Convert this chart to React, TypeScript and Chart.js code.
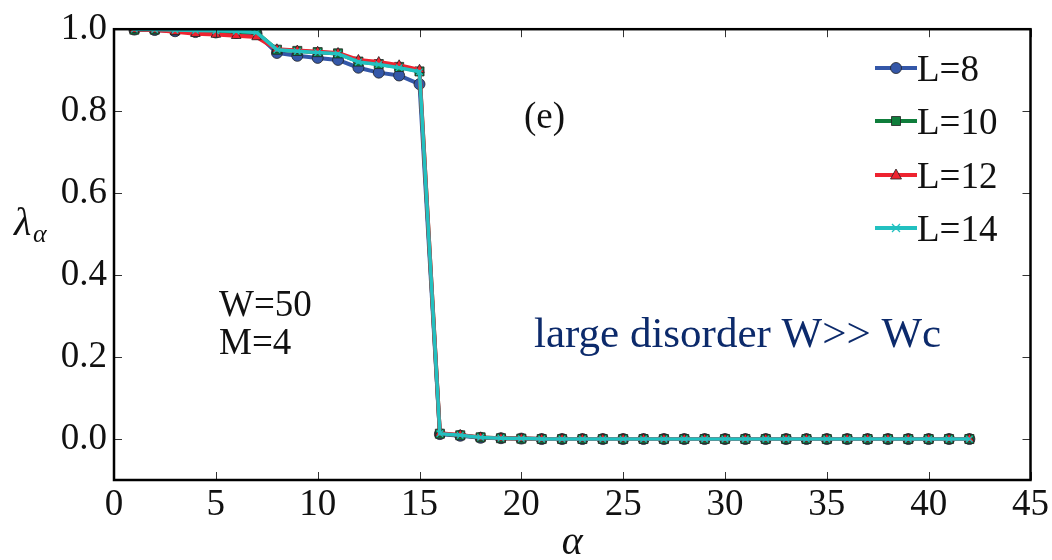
import { useEffect, useRef } from 'react';
import { Chart, registerables } from 'chart.js';

Chart.register(...registerables);

// Eigenvalue index α
const alpha = [
  1, 2, 3, 4, 5, 6, 7, 8, 9, 10, 11, 12, 13, 14, 15, 16, 17, 18, 19, 20, 21,
  22, 23, 24, 25, 26, 27, 28, 29, 30, 31, 32, 33, 34, 35, 36, 37, 38, 39, 40, 41, 42,
];

// λ_α for each system size
const lambdaL8 = [
  0.999, 0.998, 0.995, 0.993, 0.992, 0.991, 0.989, 0.942, 0.935, 0.930, 0.925, 0.906, 0.894, 0.887, 0.866,
  0.012, 0.008, 0.003, 0.002, 0.001, 0, 0, 0, 0, 0, 0, 0, 0, 0, 0, 0, 0, 0, 0, 0, 0, 0, 0, 0, 0, 0, 0,
];
const lambdaL10 = [
  0.999, 0.999, 0.997, 0.995, 0.994, 0.993, 0.992, 0.950, 0.947, 0.944, 0.941, 0.921, 0.915, 0.908, 0.897,
  0.013, 0.009, 0.004, 0.002, 0.001, 0, 0, 0, 0, 0, 0, 0, 0, 0, 0, 0, 0, 0, 0, 0, 0, 0, 0, 0, 0, 0, 0,
];
const lambdaL12 = [
  0.999, 0.998, 0.994, 0.989, 0.987, 0.984, 0.981, 0.951, 0.948, 0.945, 0.942, 0.925, 0.920, 0.912, 0.901,
  0.014, 0.010, 0.004, 0.002, 0.001, 0, 0, 0, 0, 0, 0, 0, 0, 0, 0, 0, 0, 0, 0, 0, 0, 0, 0, 0, 0, 0, 0,
];
const lambdaL14 = [
  1.0, 0.999, 0.998, 0.997, 0.996, 0.995, 0.992, 0.950, 0.946, 0.943, 0.940, 0.920, 0.914, 0.906, 0.896,
  0.013, 0.009, 0.004, 0.002, 0.001, 0, 0, 0, 0, 0, 0, 0, 0, 0, 0, 0, 0, 0, 0, 0, 0, 0, 0, 0, 0, 0, 0,
];

const seriesLabels = ['L=8', 'L=10', 'L=12', 'L=14'];
const xTicks = [0, 5, 10, 15, 20, 25, 30, 35, 40, 45];
const yTicks = [0.0, 0.2, 0.4, 0.6, 0.8, 1.0];

const SERIF = '"Liberation Serif", "DejaVu Serif", serif';
const colors = ['#3457a8', '#0f7d3b', '#ee2330', '#22c0c0'];
const markers = ['circle', 'rect', 'triangle', 'crossRot'];

function drawMarker(ctx: CanvasRenderingContext2D, kind: string, x: number, y: number, color: string) {
  ctx.save();
  ctx.fillStyle = color;
  ctx.strokeStyle = '#222';
  ctx.lineWidth = 0.8;
  ctx.beginPath();
  if (kind === 'circle') {
    ctx.arc(x, y, 5.5, 0, Math.PI * 2);
    ctx.fill();
    ctx.stroke();
  } else if (kind === 'rect') {
    ctx.rect(x - 4.5, y - 4.5, 9, 9);
    ctx.fill();
    ctx.stroke();
  } else if (kind === 'triangle') {
    ctx.moveTo(x, y - 6);
    ctx.lineTo(x + 5.5, y + 4);
    ctx.lineTo(x - 5.5, y + 4);
    ctx.closePath();
    ctx.fill();
    ctx.stroke();
  } else {
    ctx.strokeStyle = color;
    ctx.lineWidth = 1.3;
    ctx.moveTo(x - 4, y - 4);
    ctx.lineTo(x + 4, y + 4);
    ctx.moveTo(x + 4, y - 4);
    ctx.lineTo(x - 4, y + 4);
    ctx.stroke();
  }
  ctx.restore();
}

const framePlugin = {
  id: 'frameAndText',
  afterDraw(chart: any) {
    const { ctx, chartArea, scales } = chart;
    const { left, right, top, bottom } = chartArea;
    ctx.save();

    // inward tick marks on all four sides
    ctx.strokeStyle = '#333';
    ctx.lineWidth = 1;
    const tl = 8;
    ctx.beginPath();
    xTicks.forEach((v) => {
      const px = Math.round(scales.x.getPixelForValue(v)) + 0.5;
      ctx.moveTo(px, bottom);
      ctx.lineTo(px, bottom - tl);
      ctx.moveTo(px, top);
      ctx.lineTo(px, top + tl);
    });
    yTicks.forEach((v) => {
      const py = Math.round(scales.y.getPixelForValue(v)) + 0.5;
      ctx.moveTo(left, py);
      ctx.lineTo(left + tl, py);
      ctx.moveTo(right, py);
      ctx.lineTo(right - tl, py);
    });
    ctx.stroke();

    // axes frame
    ctx.strokeStyle = '#000';
    ctx.lineWidth = 2.5;
    ctx.strokeRect(left, top, right - left, bottom - top);

    // axis titles
    ctx.fillStyle = '#111';
    ctx.textBaseline = 'alphabetic';
    ctx.textAlign = 'left';
    ctx.font = `italic 40px ${SERIF}`;
    ctx.fillText('λ', 14, 235);
    ctx.font = `italic 26px ${SERIF}`;
    ctx.fillText('α', 33, 242);
    ctx.textAlign = 'center';
    ctx.font = `italic 40px ${SERIF}`;
    ctx.fillText('α', (left + right) / 2, 554);

    // annotations
    ctx.textAlign = 'left';
    ctx.font = `37px ${SERIF}`;
    ctx.fillText('(e)', 524, 128);
    ctx.fillText('W=50', 219, 316);
    ctx.fillText('M=4', 219, 354);
    ctx.fillStyle = '#0c2a6b';
    ctx.font = `43px ${SERIF}`;
    ctx.fillText('large disorder W>> Wc', 534, 347);

    // legend
    const rowsY = [68, 121, 175, 228];
    seriesLabels.forEach((label, i) => {
      const y = rowsY[i];
      ctx.strokeStyle = colors[i];
      ctx.lineWidth = 4;
      ctx.beginPath();
      ctx.moveTo(875, y);
      ctx.lineTo(917, y);
      ctx.stroke();
      drawMarker(ctx, markers[i], 896, y, colors[i]);
      ctx.fillStyle = '#111';
      ctx.font = `37px ${SERIF}`;
      ctx.textAlign = 'left';
      ctx.fillText(label, 917, y + 13);
    });

    ctx.restore();
  },
};

export default function App() {
  const canvasRef = useRef<HTMLCanvasElement | null>(null);

  useEffect(() => {
    document.body.style.margin = '0';
    const canvas = canvasRef.current;
    if (!canvas) return;

    const seriesData = [lambdaL8, lambdaL10, lambdaL12, lambdaL14];
    const datasets = seriesData.map((vals, i) => ({
      label: seriesLabels[i],
      data: alpha.map((a, j) => ({ x: a, y: vals[j] })),
      borderColor: colors[i],
      backgroundColor: colors[i],
      borderWidth: i === 3 ? 3.5 : 4,
      pointStyle: markers[i] as any,
      pointRadius: i === 0 ? 5.5 : i === 1 ? 6.4 : i === 2 ? 5.5 : 4.5,
      pointBorderColor: i === 3 ? colors[i] : '#222',
      pointBorderWidth: i === 3 ? 1.3 : 0.8,
      pointBackgroundColor: colors[i],
      tension: 0,
      order: 4 - i,
    }));

    const chart = new Chart(canvas, {
      type: 'line',
      data: { datasets },
      options: {
        animation: false,
        responsive: false,
        events: [],
        layout: { autoPadding: false, padding: { top: 21, right: 17, left: 0, bottom: 0 } },
        plugins: { legend: { display: false }, tooltip: { enabled: false } },
        scales: {
          x: {
            type: 'linear',
            min: 0,
            max: 45,
            grid: { display: false, drawTicks: false },
            border: { display: false },
            afterFit: (s: any) => {
              s.height = 80;
            },
            afterBuildTicks: (s: any) => {
              s.ticks = xTicks.map((v) => ({ value: v }));
            },
            ticks: {
              color: '#111',
              padding: 3,
              maxRotation: 0,
              font: { family: SERIF, size: 37 },
              callback: (v: any) => String(v),
            },
          },
          y: {
            type: 'linear',
            min: -0.1,
            max: 1.0,
            grid: { display: false, drawTicks: false },
            border: { display: false },
            afterFit: (s: any) => {
              s.width = 114;
            },
            afterBuildTicks: (s: any) => {
              s.ticks = yTicks.map((v) => ({ value: v }));
            },
            ticks: {
              color: '#111',
              padding: 7,
              font: { family: SERIF, size: 37 },
              callback: (v: any) => Number(v).toFixed(1),
            },
          },
        },
      },
      plugins: [framePlugin],
    });

    return () => chart.destroy();
  }, []);

  return (
    <div style={{ width: 1052, height: 560 }}>
      <canvas ref={canvasRef} width={1052} height={560} style={{ display: 'block' }} />
    </div>
  );
}
